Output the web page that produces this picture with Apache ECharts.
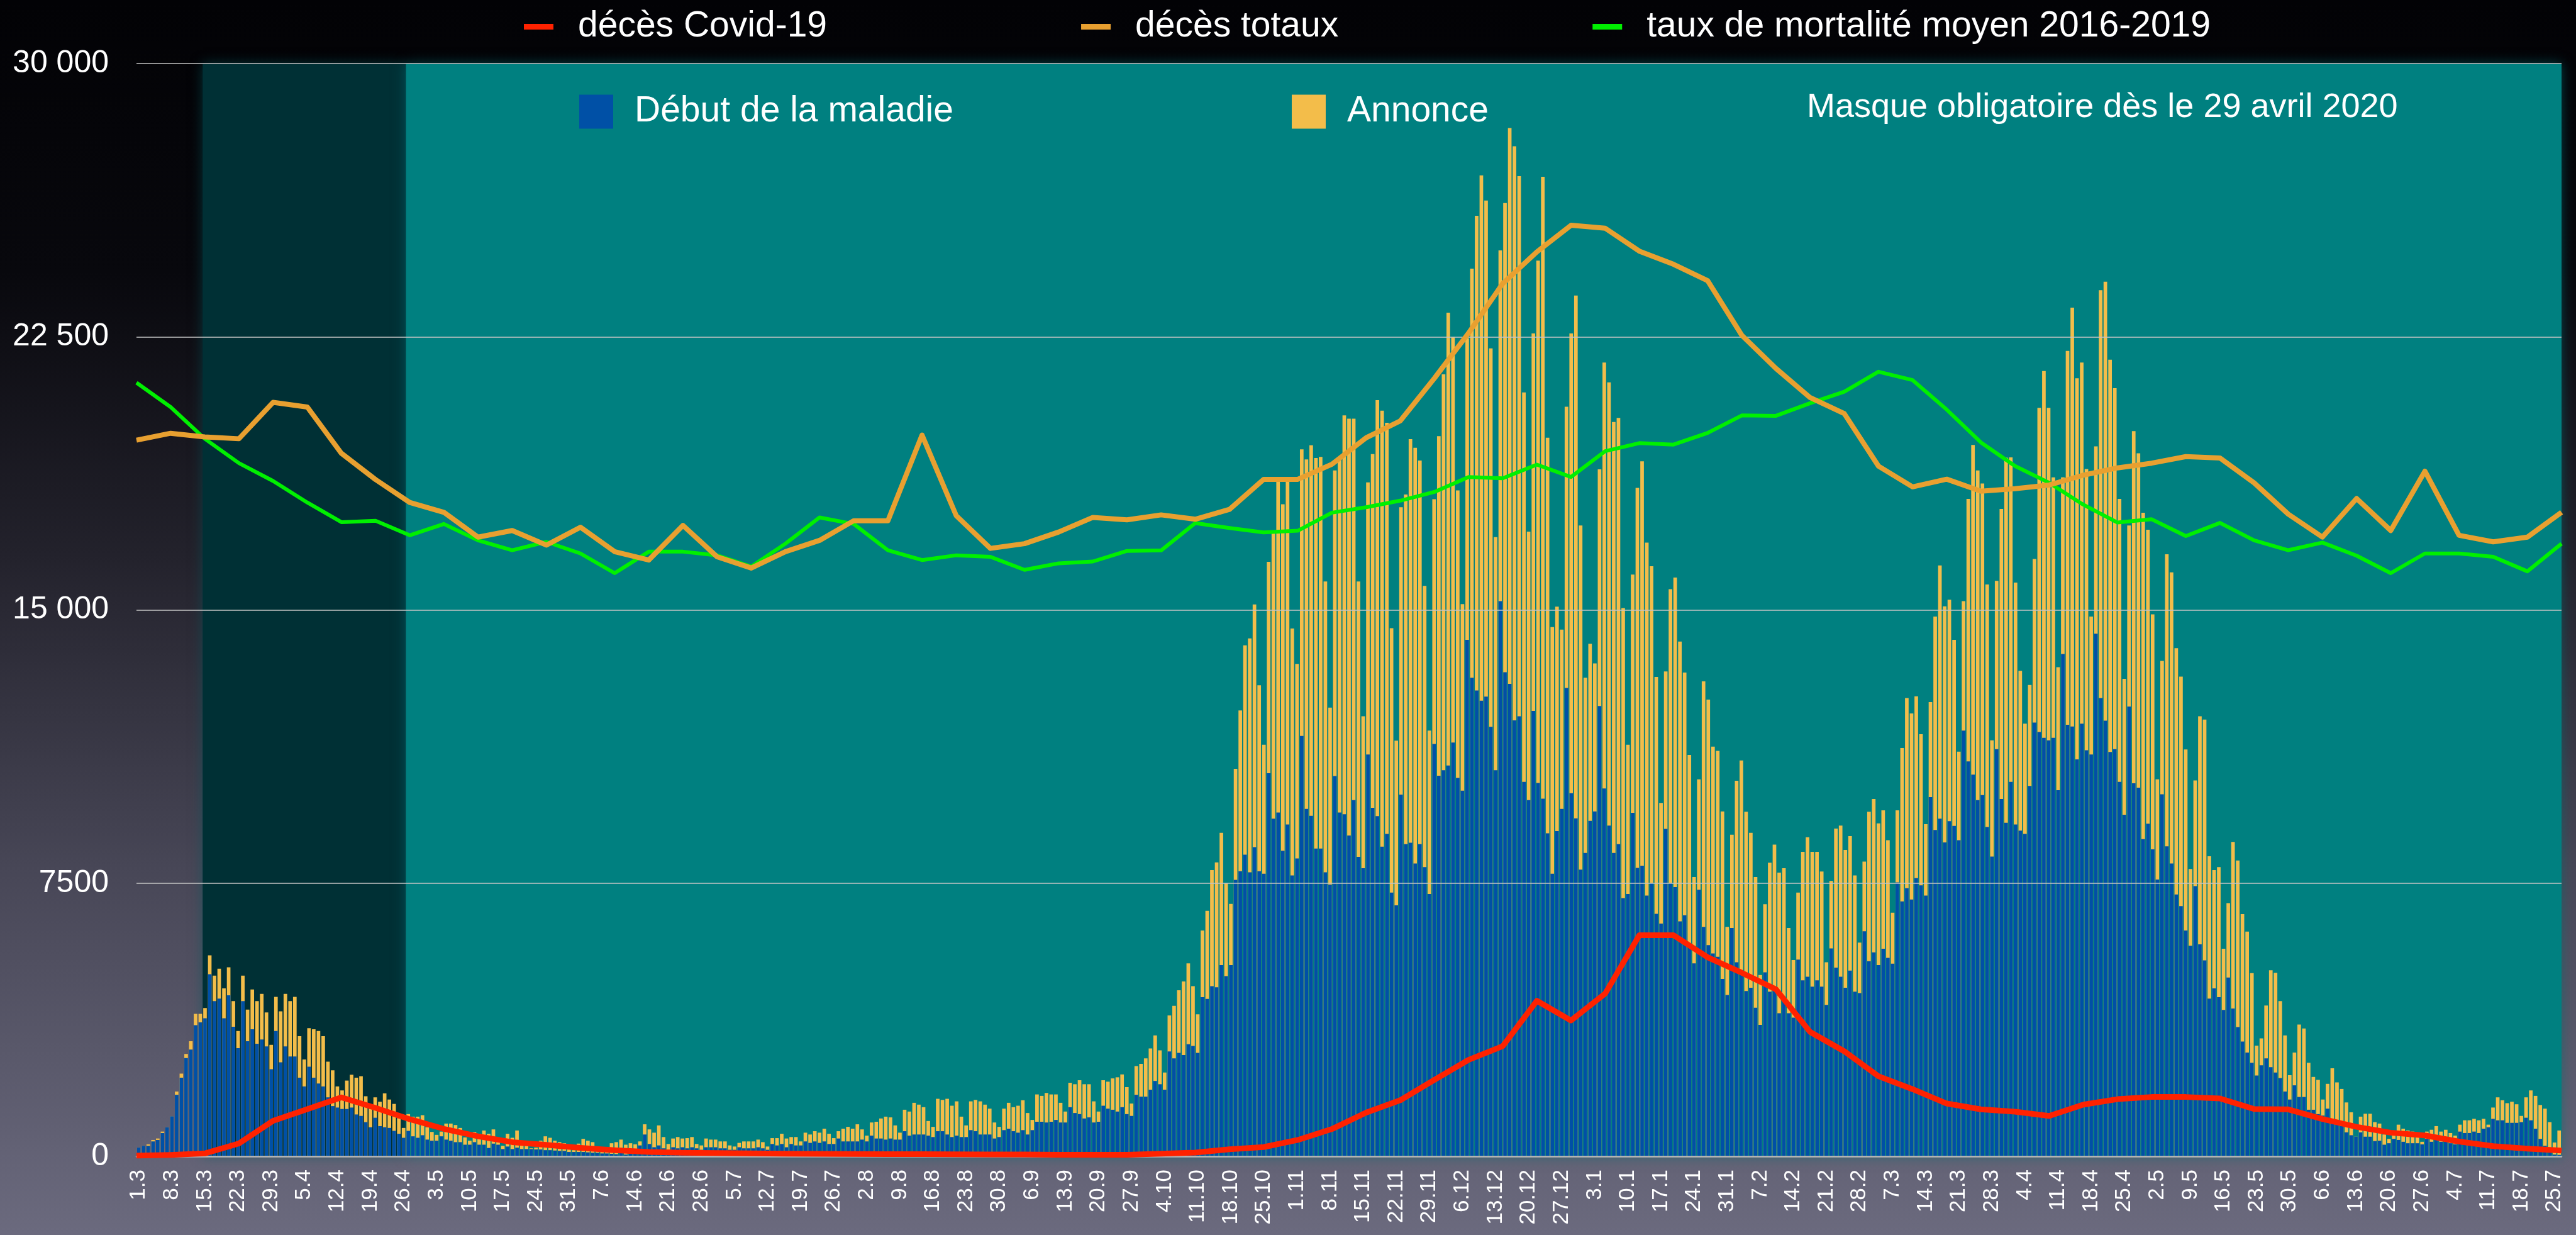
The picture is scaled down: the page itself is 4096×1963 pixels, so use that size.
<!DOCTYPE html>
<html>
<head>
<meta charset="utf-8">
<script src="https://cdn.jsdelivr.net/npm/echarts@6/dist/echarts.min.js"></script>
<style>
  html, body { margin: 0; padding: 0; }
  #chart {
    width: 4096px; height: 1963px;
    background: linear-gradient(to bottom, #020205 0%, #08080d 22%, #23222c 45%, #474656 70%, #6b6a7e 100%);
  }
</style>
</head>
<body>
<div id="chart"></div>
<script>
// daily categories, 1.3.2020 .. 26.7.2021
var days = [];
for (var k = 0; k < 513; k++) {
  var dt = new Date(2020, 2, 1 + k);
  days.push(dt.getDate() + '.' + (dt.getMonth() + 1));
}

// nouveaux cas par jour : date d'annonce (jaune)
var annonce = [
  240, 290, 330, 450, 490, 680, 800, 1100, 1780, 2270,
  2810, 3160, 3910, 3910, 4070, 5520, 4960, 5150, 4610, 5190,
  4260, 3440, 4960, 4030, 4580, 4260, 4460, 3950, 3060, 4380,
  3980, 4460, 4260, 4380, 3300, 2660, 3520, 3490, 3440, 3300,
  2600, 2360, 1920, 1810, 2080, 2240, 2160, 2200, 1650, 1310,
  1620, 1500, 1730, 1560, 1440, 1050, 780, 1160, 1090, 1090,
  1130, 800, 670, 590, 680, 900, 900, 860, 780, 520,
  430, 670, 620, 710, 620, 740, 510, 290, 620, 510,
  710, 390, 430, 220, 240, 430, 550, 510, 430, 390,
  360, 200, 170, 350, 480, 430, 390, 270, 120, 120,
  360, 390, 460, 320, 360, 330, 410, 880, 740, 650,
  850, 530, 340, 490, 530, 490, 500, 530, 340, 300,
  490, 460, 460, 410, 410, 300, 270, 370, 410, 410,
  410, 460, 390, 270, 500, 500, 620, 490, 530, 530,
  410, 650, 600, 690, 650, 760, 620, 500, 690, 760,
  810, 760, 880, 740, 570, 930, 950, 1040, 1090, 1070,
  850, 650, 1280, 1230, 1470, 1420, 1350, 970, 810, 1580,
  1550, 1580, 1390, 1510, 1090, 850, 1510, 1550, 1510, 1420,
  1310, 930, 810, 1310, 1470, 1350, 1390, 1540, 1190, 1000,
  1700, 1660, 1740, 1700, 1700, 1470, 1230, 2020, 1980, 2090,
  1980, 1980, 1510, 1230, 2090, 2050, 2140, 2170, 2250, 1900,
  1450, 2480, 2540, 2690, 2960, 3320, 2910, 2300, 3870, 4130,
  4560, 4800, 5300, 4670, 3900, 6200, 6740, 7860, 8070, 8880,
  7500, 6930, 10640, 12240, 14030, 14220, 15150, 12930, 11300, 16320,
  17130, 18650, 17900, 18570, 14490, 13520, 19410, 19130, 19520, 19170,
  19200, 15780, 12320, 18830, 19130, 20340, 20250, 20250, 15780, 12080,
  18500, 19280, 20760, 20470, 20140, 14500, 11410, 17820, 18170, 19690,
  19450, 19100, 15660, 11690, 18040, 19770, 21470, 23160, 22490, 18280,
  15160, 22460, 24370, 25820, 26930, 26240, 22180, 17000, 24870, 26170,
  28230, 27730, 26910, 20970, 17150, 22590, 24590, 26890, 19730, 14530,
  15090, 14460, 20580, 22590, 23630, 17320, 13140, 14070, 13530, 18860,
  21790, 21250, 20160, 20270, 15050, 11300, 15970, 18350, 19080, 16850,
  16200, 13160, 9700, 13310, 15570, 15890, 14130, 13280, 11020, 7670,
  10350, 13040, 12540, 11250, 11130, 9470, 6300, 8830, 10310, 10870,
  9460, 8880, 7670, 4980, 6920, 8060, 8560, 7790, 7910, 6270,
  5390, 7240, 8360, 8760, 8360, 8360, 7820, 5330, 7560, 9000,
  9080, 8410, 8790, 7710, 5870, 8090, 9460, 9810, 9140, 9500,
  8680, 6690, 9500, 11210, 12580, 12160, 12630, 11590, 9120, 12470,
  14820, 16220, 15100, 15280, 14180, 11110, 15240, 18050, 19530, 18830,
  18470, 15700, 11420, 15800, 17770, 19180, 19190, 15750, 13330, 11880,
  12940, 16400, 20550, 21560, 20550, 18640, 13430, 18640, 22110, 23300,
  21360, 21790, 18870, 14820, 19490, 23780, 24010, 21870, 21090, 18050,
  13110, 17320, 19910, 19300, 17670, 17200, 14880, 10350, 13600, 16530,
  16030, 13950, 13170, 11170, 7890, 10320, 12080, 11990, 8240, 7860,
  7940, 5700, 6950, 8630, 8120, 6650, 6170, 5030, 3040, 3240,
  4140, 5110, 5040, 4260, 3320, 2230, 2850, 3620, 3510, 2570,
  2180, 2100, 1560, 1990, 2420, 2030, 1850, 1480, 1210, 540,
  1090, 1170, 1170, 940, 900, 600, 480, 710, 870, 760,
  710, 680, 620, 400, 680, 730, 830, 680, 730, 640,
  570, 870, 990, 990, 1030, 990, 1030, 870, 1340, 1620,
  1540, 1460, 1500, 1430, 1110, 1620, 1810, 1660, 1410, 1310,
  940, 380, 710
];

// nouveaux cas par jour : début de la maladie (bleu)
var debut = [
  240, 290, 290, 410, 450, 640, 800, 1100, 1690, 2160,
  2700, 2930, 3600, 3680, 3790, 5000, 4260, 4330, 3790, 4420,
  3560, 2970, 4260, 3160, 3490, 3090, 3210, 3020, 2390, 3440,
  2580, 3020, 2740, 2740, 2160, 1920, 2460, 2160, 2000, 1920,
  1620, 1380, 1340, 1300, 1300, 1340, 1150, 1110, 940, 800,
  1060, 830, 800, 780, 700, 620, 510, 700, 550, 510,
  580, 460, 430, 430, 550, 460, 430, 390, 390, 320,
  320, 390, 320, 320, 230, 350, 320, 200, 270, 200,
  240, 200, 200, 200, 190, 190, 170, 170, 160, 150,
  150, 120, 120, 120, 120, 110, 100, 100, 80, 80,
  70, 60, 230, 50, 200, 200, 300, 600, 340, 250,
  300, 220, 180, 250, 220, 250, 220, 250, 220, 180,
  250, 250, 250, 220, 220, 180, 180, 250, 220, 220,
  220, 250, 220, 180, 340, 300, 340, 250, 340, 300,
  300, 410, 370, 410, 370, 410, 340, 340, 490, 410,
  410, 410, 410, 460, 410, 570, 490, 490, 460, 490,
  460, 460, 690, 570, 600, 600, 600, 570, 530, 690,
  690, 600, 530, 570, 530, 530, 720, 690, 600, 600,
  600, 490, 530, 720, 760, 690, 650, 720, 600, 720,
  950, 950, 930, 950, 1000, 930, 930, 1350, 1190, 1160,
  1040, 1070, 930, 950, 1390, 1310, 1280, 1230, 1350, 1160,
  1110, 1690, 1640, 1640, 1830, 2070, 1980, 1830, 2880, 2690,
  2840, 2780, 3080, 3030, 2840, 4370, 4320, 4670, 4640, 5250,
  4950, 5250, 7590, 7830, 8280, 7800, 8490, 7830, 7760, 10520,
  9270, 9440, 8390, 9110, 7710, 8180, 11540, 9540, 9350, 8450,
  8450, 7800, 7460, 10440, 9440, 9390, 8810, 9780, 8220, 7910,
  11030, 9570, 9340, 8500, 8850, 7240, 6890, 9930, 8570, 8610,
  8040, 8570, 7940, 7200, 11320, 10450, 10600, 10730, 11360, 10390,
  10040, 14180, 13140, 12790, 12510, 12620, 11790, 10600, 15240, 13290,
  12970, 11970, 12080, 10280, 9780, 12230, 10250, 9820, 8870, 7760,
  8930, 9540, 12860, 9970, 9280, 7870, 8330, 9210, 9470, 12360,
  10100, 9080, 8330, 8570, 7090, 7200, 9430, 7920, 7980, 7160,
  7510, 6660, 6390, 8990, 7510, 7390, 6450, 6620, 5840, 5300,
  7320, 6300, 5800, 5570, 5480, 4870, 4430, 6270, 5330, 5070,
  4540, 4630, 4080, 3610, 5050, 4520, 4550, 3930, 4250, 3930,
  3810, 5400, 4830, 4930, 4660, 4830, 4660, 4160, 5710, 5180,
  4930, 4630, 5100, 4520, 4480, 6180, 5360, 5600, 5250, 5700,
  5450, 5290, 7520, 7000, 7360, 7050, 7640, 7440, 7160, 9860,
  8960, 9270, 8620, 9200, 9070, 8680, 11690, 10840, 10480, 9780,
  9920, 9040, 8230, 11180, 9810, 9160, 10280, 9110, 8940, 8850,
  10170, 11910, 11650, 11490, 11420, 11490, 10050, 13790, 11850, 11800,
  10900, 11880, 11150, 11030, 14350, 12580, 11960, 11100, 11180, 10280,
  9380, 12350, 10240, 10120, 8710, 9130, 8430, 7600, 9940, 8510,
  8040, 7190, 6870, 6200, 5780, 7420, 5820, 5380, 4330, 4610,
  4370, 4020, 4910, 4060, 3550, 3150, 2850, 2570, 2220, 2500,
  2690, 2450, 2300, 2150, 1780, 1560, 1950, 1630, 1630, 1280,
  1280, 1160, 1120, 1310, 1030, 900, 830, 660, 580, 540,
  660, 540, 540, 420, 430, 320, 360, 480, 450, 400,
  360, 360, 360, 330, 480, 400, 480, 400, 400, 360,
  330, 680, 640, 640, 680, 640, 760, 800, 1030, 990,
  990, 920, 920, 920, 940, 1060, 990, 760, 480, 290,
  110, 50, 40
];

// décès hebdomadaires (72 semaines, réparties sur toute la largeur)
var decesCovid = [
  20, 40, 80, 355, 975, 1295, 1620, 1330, 1020, 755,
  550, 390, 316, 234, 170, 120, 100, 90, 80, 75,
  70, 65, 60, 60, 55, 50, 50, 45, 45, 45,
  75, 105, 195, 255, 450, 750, 1200, 1540, 2100, 2650,
  3025, 4270, 3730, 4470, 6070, 6070, 5465, 5040, 4585, 3415,
  2885, 2200, 1845, 1450, 1290, 1225, 1110, 1420, 1570, 1630,
  1630, 1590, 1300, 1290, 1025, 810, 650, 575, 405, 280,
  210, 160
];
var decesTotaux = [
  19660, 19850, 19750, 19700, 20700, 20570, 19300, 18580, 17950, 17680,
  17000, 17180, 16780, 17270, 16600, 16370, 17320, 16460, 16150, 16600,
  16910, 17450, 17450, 19800, 17590, 16690, 16820, 17140, 17540, 17475,
  17610, 17490, 17760, 18585, 18585, 19000, 19725, 20190, 21360, 22600,
  23960, 24830, 25560, 25480, 24850, 24490, 24040, 22540, 21630, 20830,
  20390, 18950, 18380, 18590, 18260, 18330, 18430, 18700, 18900, 19030,
  19210, 19170, 18490, 17630, 17000, 18060, 17180, 18810, 17050, 16870,
  17000, 17680
];
var tauxMoyen = [
  21240, 20570, 19700, 19030, 18540, 17950, 17410, 17450, 17050, 17360,
  16910, 16640, 16870, 16550, 16010, 16600, 16600, 16500, 16190, 16820,
  17540, 17360, 16640, 16370, 16500, 16460, 16100, 16280, 16330, 16620,
  16635, 17385, 17250, 17130, 17175, 17670, 17820, 18000, 18240, 18650,
  18615, 18990, 18650, 19360, 19580, 19540, 19860, 20340, 20330, 20675,
  20990, 21540, 21310, 20500, 19600, 18950, 18490, 17890, 17400, 17490,
  17030, 17390, 16910, 16640, 16850, 16490, 16010, 16550, 16550, 16460,
  16060, 16820
];

var yTicks = [0, 7500, 15000, 22500, 30000];

var FONT = "'Liberation Sans', Arial, Helvetica, sans-serif";
var nWeeks = decesTotaux.length;
function pairs(arr) { return arr.map(function (v, i) { return [i, v]; }); }
// day band edge -> position on the weekly (line) axis
function dayPos(d) { return d * (nWeeks - 1) / days.length; }
function fmtY(v) {
  if (v >= 10000) {
    var s = String(v);
    return s.slice(0, s.length - 3) + ' ' + s.slice(-3);
  }
  return String(v);
}

var chart = echarts.init(document.getElementById('chart'));

var option = {
  animation: false,
  textStyle: { fontFamily: FONT },
  grid: { left: 217, right: 23, top: 101, bottom: 125 },
  legend: [
    {
      data: ['décès Covid-19', 'décès totaux', 'taux de mortalité moyen 2016-2019'],
      left: 828, top: 9,
      icon: 'rect', itemWidth: 47, itemHeight: 9, itemGap: 404,
      textStyle: { color: '#fff', fontSize: 57, fontFamily: FONT, padding: [0, 0, 0, 34] }
    },
    {
      data: ['Début de la maladie', 'Annonce'],
      left: 916, top: 144,
      icon: 'rect', itemWidth: 54, itemHeight: 54, itemGap: 538,
      textStyle: { color: '#fff', fontSize: 57, fontFamily: FONT, padding: [0, 0, 0, 29] }
    }
  ],
  graphic: {
    elements: [{
      type: 'text', left: 2873, top: 144, z: 10,
      style: {
        text: 'Masque obligatoire dès le 29 avril 2020',
        fill: '#fff', fontSize: 54, fontFamily: FONT
      }
    }]
  },
  xAxis: [
    {
      type: 'category', data: days, boundaryGap: true, z: 3,
      axisLine: { lineStyle: { color: '#b4b4b4', width: 2.5 } },
      axisTick: { show: false },
      axisLabel: { interval: 6, rotate: 90, color: '#fff', fontSize: 35, margin: 21, fontFamily: FONT }
    },
    { type: 'value', min: 0, max: nWeeks - 1, show: false }
  ],
  yAxis: {
    type: 'value', min: yTicks[0], max: yTicks[yTicks.length - 1], interval: 7500, z: 3,
    axisLine: { show: false }, axisTick: { show: false },
    axisLabel: { color: '#fff', fontSize: 50, margin: 44, fontFamily: FONT, formatter: fmtY },
    splitLine: { lineStyle: { color: '#c4c4c4', width: 1.5 } }
  },
  series: [
    {
      // plot background: confinement (dark) then masks (teal)
      type: 'line', xAxisIndex: 1, data: [], silent: true, z: 0,
      markArea: {
        silent: true,
        data: [
          [{ xAxis: dayPos(14), itemStyle: { color: '#003035', shadowBlur: 18, shadowColor: 'rgba(0,90,95,0.55)' } },
           { xAxis: dayPos(57) }],
          [{ xAxis: dayPos(57), itemStyle: { color: '#008080', shadowBlur: 18, shadowColor: 'rgba(0,110,115,0.6)' } },
           { xAxis: nWeeks - 1 }]
        ]
      }
    },
    {
      name: 'Annonce', type: 'bar', data: annonce, z: 2,
      barGap: '-100%', barCategoryGap: '24%',
      itemStyle: { color: '#F3BD4A' }
    },
    {
      name: 'Début de la maladie', type: 'bar', data: debut, z: 2,
      barGap: '-100%', barCategoryGap: '24%',
      itemStyle: { color: '#0050A6' }
    },
    {
      name: 'taux de mortalité moyen 2016-2019', type: 'line', xAxisIndex: 1,
      data: pairs(tauxMoyen), showSymbol: false, z: 4,
      itemStyle: { color: '#00F000' },
      lineStyle: { color: '#00F000', width: 6, join: 'round' }
    },
    {
      name: 'décès totaux', type: 'line', xAxisIndex: 1,
      data: pairs(decesTotaux), showSymbol: false, z: 4,
      itemStyle: { color: '#E8A030' },
      lineStyle: { color: '#E8A030', width: 8, join: 'round' }
    },
    {
      name: 'décès Covid-19', type: 'line', xAxisIndex: 1,
      data: pairs(decesCovid), showSymbol: false, z: 4,
      itemStyle: { color: '#FF2200' },
      lineStyle: { color: '#FF2200', width: 9, join: 'round' }
    }
  ]
};

chart.setOption(option);
window.addEventListener('resize', function () { chart.resize(); });
</script>
</body>
</html>
